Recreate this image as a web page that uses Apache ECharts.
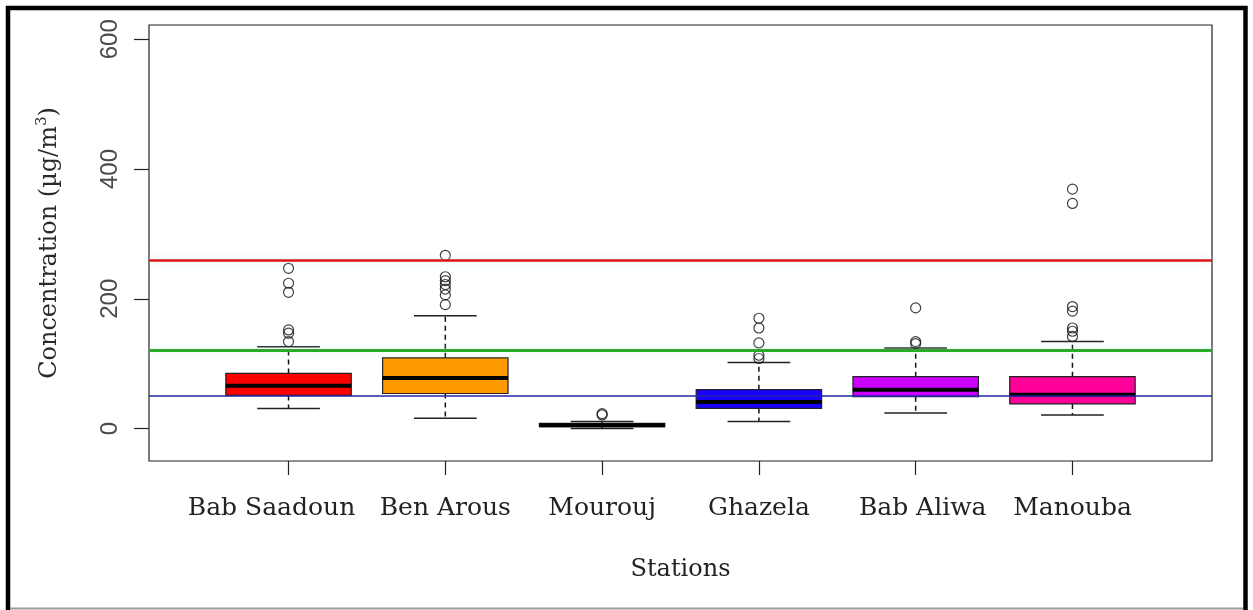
<!DOCTYPE html>
<html>
<head>
<meta charset="utf-8">
<title>Concentration by station</title>
<script src="https://cdn.jsdelivr.net/npm/echarts@6/dist/echarts.min.js"></script>
<style>
  html, body { margin: 0; padding: 0; background: #fff; }
  #chart { width: 1253px; height: 610px; }
</style>
</head>
<body>
<div id="chart"></div>
<script>
// Stations along the x axis
const stations = ['Bab Saadoun', 'Ben Arous', 'Mourouj', 'Ghazela', 'Bab Aliwa', 'Manouba'];

// Five-number summaries per station (µg/m³)
const whiskerLow  = [31, 16, 0, 11, 24, 21];
const quartile1   = [51, 54, 3, 31, 49, 38];
const medians     = [66, 78, 5, 41, 60, 52];
const quartile3   = [85, 109, 8, 60, 80, 80];
const whiskerHigh = [126, 174, 11, 102, 124, 134];

// Points beyond the whiskers
const outliers = [
  [247, 224, 210, 152, 147, 134],
  [267, 234, 228, 222, 215, 206, 191],
  [23, 21],
  [170, 155, 132, 113, 108],
  [186, 134, 131],
  [369, 347, 188, 181, 155, 150, 142]
];

// Reference limits (µg/m³)
const limitValues = [260, 120, 50];

// Y axis tick labels
const yTicks = [0, 200, 400, 600];

const boxColors = ['#ff0000', '#ff9900', '#000000', '#1a00ff', '#cc00ff', '#ff0099'];
const limitStyles = [
  { color: '#dd1515', width: 2.5 },
  { color: '#2aaa2a', width: 3 },
  { color: '#2424a8', width: 1.5 }
];

const positions = stations.map((s, i) => i + 1);

const boxData = stations.map((s, i) => [
  positions[i], whiskerLow[i], quartile1[i], medians[i], quartile3[i], whiskerHigh[i]
]);

const outlierData = [];
outliers.forEach((list, i) => list.forEach(v => outlierData.push([positions[i], v])));

function renderBox(params, api) {
  const x = api.value(0);
  const cx = api.coord([x, 0])[0];
  const yLo = api.coord([x, api.value(1)])[1];
  const yQ1 = api.coord([x, api.value(2)])[1];
  const yMed = api.coord([x, api.value(3)])[1];
  const yQ3 = api.coord([x, api.value(4)])[1];
  const yHi = api.coord([x, api.value(5)])[1];
  const halfBox = api.size([0.8, 0])[0] / 2;
  const halfCap = halfBox / 2;
  const dash = { stroke: '#111', lineWidth: 1.5, lineDash: [5, 4] };
  const cap = { stroke: '#222', lineWidth: 1.5 };
  return {
    type: 'group',
    children: [
      { type: 'line', shape: { x1: cx, y1: yQ3, x2: cx, y2: yHi }, style: dash },
      { type: 'line', shape: { x1: cx, y1: yQ1, x2: cx, y2: yLo }, style: dash },
      { type: 'line', shape: { x1: cx - halfCap, y1: yHi, x2: cx + halfCap, y2: yHi }, style: cap },
      { type: 'line', shape: { x1: cx - halfCap, y1: yLo, x2: cx + halfCap, y2: yLo }, style: cap },
      {
        type: 'rect',
        shape: { x: cx - halfBox, y: yQ3, width: halfBox * 2, height: yQ1 - yQ3 },
        style: { fill: boxColors[params.dataIndex], stroke: '#222', lineWidth: 1.2 }
      },
      {
        type: 'line',
        shape: { x1: cx - halfBox, y1: yMed, x2: cx + halfBox, y2: yMed },
        style: { stroke: '#000', lineWidth: 4 }
      }
    ]
  };
}

const labelFont = { fontFamily: 'DejaVu Serif', fontSize: 25, color: '#222' };

const chart = echarts.init(document.getElementById('chart'), null, { renderer: 'canvas' });

chart.setOption({
  backgroundColor: '#fff',
  animation: false,
  grid: {
    left: 149, right: 41, top: 25, bottom: 149,
    show: true, borderColor: '#222', borderWidth: 1.2, backgroundColor: 'transparent'
  },
  xAxis: {
    type: 'value',
    min: 0.11,
    max: 6.89,
    name: 'Stations',
    nameLocation: 'middle',
    nameGap: 97,
    nameTextStyle: { fontFamily: 'DejaVu Serif', fontSize: 24, color: '#222' },
    axisLine: { show: false, onZero: false },
    splitLine: { show: false },
    axisTick: { show: true, length: 14, lineStyle: { color: '#222', width: 1.2 }, customValues: positions },
    axisLabel: {
      customValues: positions,
      formatter: v => {
        const i = Math.round(v) - 1;
        const name = stations[i] || '';
        if (i === 0) return '{l|' + name + '}';
        if (i === 4) return '{r|' + name + '}';
        return '{c|' + name + '}';
      },
      rich: {
        l: Object.assign({ padding: [0, 34, 0, 0] }, labelFont),
        r: Object.assign({ padding: [0, 0, 0, 14] }, labelFont),
        c: Object.assign({}, labelFont)
      },
      fontFamily: 'DejaVu Serif', fontSize: 25, color: '#222', margin: 35
    }
  },
  yAxis: {
    type: 'value',
    min: -50,
    max: 622,
    name: '{a|Concentration (µg/m}{b|3}{a|)}',
    nameLocation: 'middle',
    nameRotate: 90,
    nameGap: 84,
    nameTextStyle: {
      rich: {
        a: { fontFamily: 'DejaVu Serif', fontSize: 24, color: '#2a2a2a', lineHeight: 30 },
        b: { fontFamily: 'DejaVu Serif', fontSize: 15, color: '#2a2a2a', verticalAlign: 'top', lineHeight: 16 }
      }
    },
    axisLine: { show: false, onZero: false },
    splitLine: { show: false },
    axisTick: { show: true, length: 15, lineStyle: { color: '#222', width: 1.2 }, customValues: yTicks },
    axisLabel: {
      customValues: yTicks,
      rotate: 90,
      fontFamily: 'Liberation Sans', fontSize: 24, color: '#4a4a4a', margin: 27
    }
  },
  series: [
    {
      type: 'custom',
      renderItem: renderBox,
      data: boxData,
      encode: { x: 0, y: [1, 2, 3, 4, 5] },
      z: 2,
      silent: true
    },
    {
      type: 'scatter',
      data: outlierData,
      symbol: 'circle',
      symbolSize: 10,
      itemStyle: { color: 'rgba(0,0,0,0)', borderColor: '#111', borderWidth: 1.2 },
      z: 3,
      silent: true
    },
    {
      type: 'line',
      data: [],
      z: 5,
      silent: true,
      markLine: {
        silent: true,
        symbol: 'none',
        label: { show: false },
        data: limitValues.map((v, i) => ({
          yAxis: v,
          lineStyle: {
            type: 'solid',
            color: limitStyles[i].color,
            width: limitStyles[i].width,
            shadowBlur: i < 2 ? 8 : 0,
            shadowColor: 'rgba(175,230,230,0.55)'
          }
        }))
      }
    }
  ],
  graphic: [
    {
      type: 'polyline',
      silent: true,
      shape: { points: [[8, 610], [8, 8], [1245.5, 8], [1245.5, 610]] },
      style: { stroke: '#000', lineWidth: 4.5, fill: null }
    },
    {
      type: 'line',
      silent: true,
      shape: { x1: 10, y1: 608.5, x2: 1243, y2: 608.5 },
      style: { stroke: '#9a9a9a', lineWidth: 2 }
    }
  ]
});
</script>
</body>
</html>
